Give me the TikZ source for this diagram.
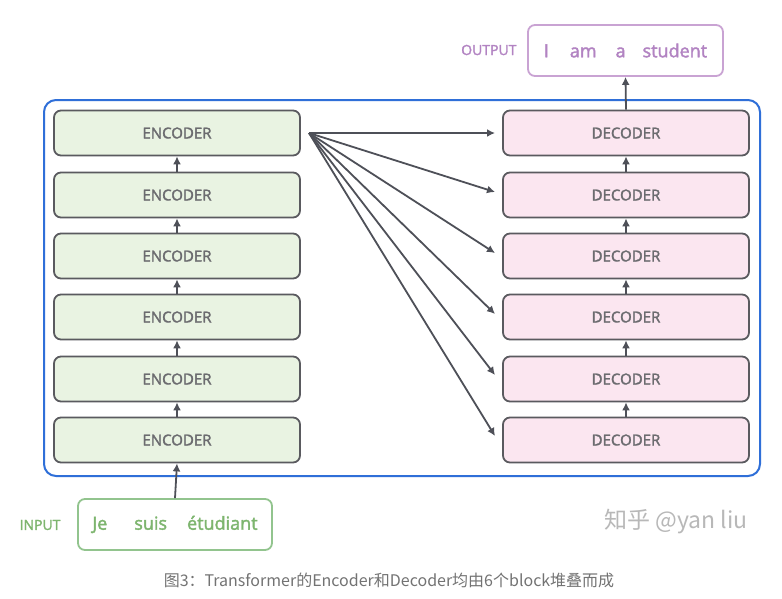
\documentclass[tikz,border=0pt]{standalone}
\usepackage{fontspec}
\setmainfont{Open Sans}
\newfontfamily\semi{Open Sans}[FakeBold=2]
\newfontfamily\cjk{Noto Sans CJK SC}
\usetikzlibrary{arrows.meta}
\definecolor{encfill}{HTML}{E9F3E2}
\definecolor{decfill}{HTML}{FBE6F0}
\definecolor{boxline}{HTML}{5A5A5F}
\definecolor{frameblue}{HTML}{2F6FD8}
\definecolor{ingreen}{HTML}{92C48E}
\definecolor{intext}{HTML}{7DB56E}
\definecolor{outpurple}{HTML}{C9A3D3}
\definecolor{outtext}{HTML}{B283C2}
\definecolor{arrowgray}{HTML}{4E5058}
\tikzset{
  blockbox/.style={draw=boxline, line width=1.8pt, rounded corners=7pt, minimum width=246pt, minimum height=45pt, inner sep=0pt, font=\semi\fontsize{15}{17}\selectfont, text=boxline!90},
  encbox/.style={blockbox, fill=encfill},
  decbox/.style={blockbox, fill=decfill},
  conn/.style={draw=arrowgray, line width=1.8pt, -{Latex[length=8pt,width=8pt]}},
}
\begin{document}
\begin{tikzpicture}[x=1pt,y=-1pt]
\useasboundingbox (0,0) rectangle (782,598);
\fill[white] (0,0) rectangle (782,598);
% frame
\node[draw=frameblue, line width=2pt, rounded corners=12pt, minimum width=716pt, minimum height=376pt, inner sep=0pt] (frame) at (402,288) {};
% encoders and decoders
\foreach \i/\y in {1/440,2/379,3/317,4/256,5/195,6/133}{
  \node[encbox] (e\i) at (177,\y) {ENCODER};
  \node[decbox] (d\i) at (626,\y) {DECODER};
}
\foreach \i/\j in {1/2,2/3,3/4,4/5,5/6}{
  \draw[conn] (e\i.north) -- (e\j.south);
  \draw[conn] (d\i.north) -- (d\j.south);
}
% fan arrows
\coordinate (src) at (309,133);
\foreach \i/\y in {6/133,5/192,4/253,3/314,2/375,1/436}{
  \draw[conn] (src) -- (495,\y);
}
% output
\node[draw=outpurple, line width=1.8pt, rounded corners=7pt, minimum width=195pt, minimum height=51pt, inner sep=0pt, text=outtext, font=\semi\fontsize{18}{21}\selectfont] (out) at (625.5,50.5) {I\hspace{21pt}am\hspace{19pt}a\hspace{17pt}student};
\node[text=outtext, font=\semi\fontsize{14}{16}\selectfont, anchor=east] (outl) at (520,50) {OUTPUT};
\draw[conn] (d6.north) -- (out.south);
% input
\node[draw=ingreen, line width=1.8pt, rounded corners=7pt, minimum width=194pt, minimum height=51pt, inner sep=0pt, text=intext, font=\semi\fontsize{18}{21}\selectfont] (in) at (175,524.5) {Je\hspace{27pt}suis\hspace{20pt}étudiant};
\node[text=intext, font=\semi\fontsize{14}{16}\selectfont, anchor=east] (inl) at (64,525) {INPUT};
\draw[conn] (in.north) -- (e1.south);
% watermark and caption
\node[text=black!28, font=\cjk\fontsize{23}{26}\selectfont] (wm) at (676,522) {知乎 @yan liu};
\node[text=black!55, font=\cjk\fontsize{16}{19}\selectfont] (cap) at (389,580) {图3：Transformer的Encoder和Decoder均由6个block堆叠而成};
\end{tikzpicture}
\end{document}
